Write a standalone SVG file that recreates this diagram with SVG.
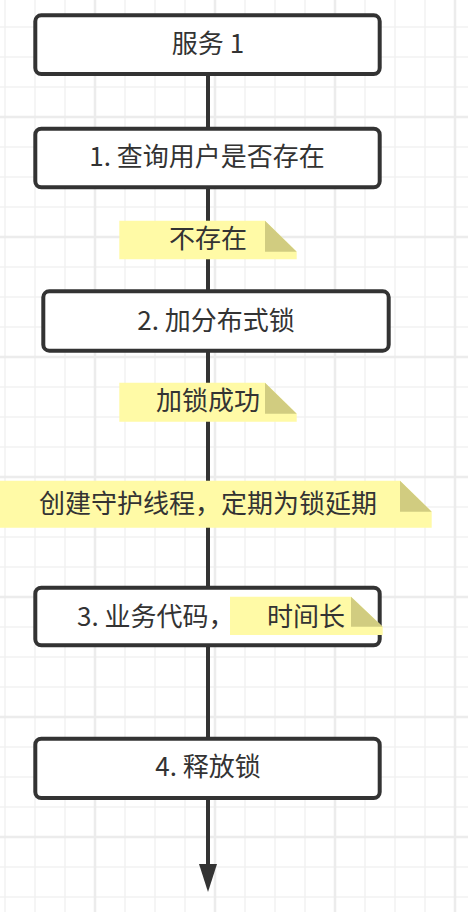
<svg xmlns="http://www.w3.org/2000/svg" width="468" height="912" viewBox="0 0 468 912">
<style>
.minor{stroke:#f2f2f2;stroke-width:1.5}
.major{stroke:#ececec;stroke-width:2.5}
.box{fill:#ffffff;stroke:#333333;stroke-width:4}
.edge{stroke:#333333;stroke-width:4;fill:none}
.note{fill:#fffaa6}
.fold{fill:#d1cc80}
text{font-family:"Noto Sans CJK SC","Noto Sans",sans-serif;font-size:26px;fill:#333333}
.c{text-anchor:middle}
</style>
<defs>
<marker id="arrow" markerUnits="userSpaceOnUse" markerWidth="28" markerHeight="18" refX="0" refY="9" orient="auto" viewBox="0 0 28 18" overflow="visible">
<path d="M0,0L28,9L0,18Z" fill="#333333"/>
</marker>
</defs>
<rect x="0" y="0" width="468" height="912" fill="#ffffff"/>
<g id="grid">
<path class="minor" d="M5,0V912M35,0V912M65,0V912M125,0V912M155,0V912M185,0V912M245,0V912M275,0V912M305,0V912M365,0V912M395,0V912M425,0V912M0,27H468M0,57H468M0,87H468M0,147H468M0,177H468M0,207H468M0,267H468M0,297H468M0,327H468M0,387H468M0,417H468M0,447H468M0,507H468M0,537H468M0,567H468M0,627H468M0,657H468M0,687H468M0,747H468M0,777H468M0,807H468M0,867H468M0,897H468"/>
<path class="major" d="M95,0V912M215,0V912M335,0V912M455,0V912M0,117H468M0,237H468M0,357H468M0,477H468M0,597H468M0,717H468M0,837H468"/>
</g>
<g id="connectors">
<line class="edge" x1="208" y1="74" x2="208" y2="129"/>
<line class="edge" x1="208" y1="187" x2="208" y2="291"/>
<line class="edge" x1="208" y1="350" x2="208" y2="588"/>
<line class="edge" x1="208" y1="645" x2="208" y2="739"/>
<path class="edge" d="M208,798V864" marker-end="url(#arrow)"/>
</g>
<g id="node-service">
<rect class="box" x="35.3" y="15.3" width="344.4" height="58.7" rx="6"/>
<text class="c" x="208" y="53">服务 1</text>
</g>
<g id="node-step1">
<rect class="box" x="35.3" y="128.7" width="344.4" height="58.6" rx="6"/>
<text class="c" x="207" y="166">1. 查询用户是否存在</text>
</g>
<g id="note-notexist">
<path class="note" d="M119.3,220.7H265L296.7,251.7V259.3H119.3Z"/>
<path class="fold" d="M265,220.7L296.7,251.7H265Z"/>
<text class="c" x="208" y="248">不存在</text>
</g>
<g id="node-step2">
<rect class="box" x="43.3" y="291.3" width="345.4" height="59.4" rx="6"/>
<text class="c" x="216" y="330">2. 加分布式锁</text>
</g>
<g id="note-locked">
<path class="note" d="M119.3,382.7H265L296.7,413.7V421.7H119.3Z"/>
<path class="fold" d="M265,382.7L296.7,413.7H265Z"/>
<text class="c" x="208" y="410">加锁成功</text>
</g>
<g id="note-watchdog">
<path class="note" d="M0,480.7H400L431.7,511.7V527.7H0Z"/>
<path class="fold" d="M400,480.7L431.7,511.7H400Z"/>
<text class="c" x="208" y="513">创建守护线程，定期为锁延期</text>
</g>
<g id="node-step3">
<rect class="box" x="35.3" y="587.7" width="344.4" height="57.6" rx="6"/>
<text x="77" y="626">3. 业务代码，</text>
</g>
<g id="note-long">
<path class="note" d="M230,596.7H351L382.7,626.7V635H230Z"/>
<path class="fold" d="M351,596.7L382.7,626.7H351Z"/>
<text class="c" x="306" y="626">时间长</text>
</g>
<g id="node-step4">
<rect class="box" x="35.3" y="738.7" width="344.4" height="59.3" rx="6"/>
<text class="c" x="208" y="776">4. 释放锁</text>
</g>
</svg>
